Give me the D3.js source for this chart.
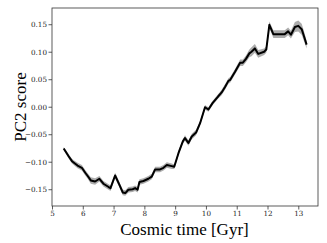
<!DOCTYPE html>
<html><head><meta charset="utf-8">
<script src="https://cdn.jsdelivr.net/npm/d3@7/dist/d3.min.js"></script>
<style>body{margin:0;background:#fff}svg{display:block}</style>
</head><body>
<script>
const time = [5.38,5.54,5.65,5.83,5.97,6.08,6.16,6.26,6.40,6.54,6.67,6.84,6.90,7.05,7.19,7.30,7.38,7.48,7.62,7.70,7.78,7.84,7.97,8.13,8.24,8.35,8.51,8.62,8.73,8.89,8.97,9.11,9.25,9.32,9.43,9.54,9.68,9.81,9.97,10.08,10.22,10.40,10.51,10.62,10.73,10.79,10.95,11.11,11.20,11.30,11.41,11.48,11.59,11.70,11.89,11.96,12.06,12.19,12.35,12.56,12.67,12.76,12.89,13.00,13.11,13.18,13.27];
const score = [-0.076,-0.090,-0.099,-0.107,-0.111,-0.120,-0.126,-0.134,-0.136,-0.131,-0.140,-0.146,-0.148,-0.125,-0.142,-0.156,-0.157,-0.151,-0.150,-0.148,-0.151,-0.137,-0.135,-0.131,-0.127,-0.114,-0.114,-0.111,-0.106,-0.108,-0.109,-0.084,-0.063,-0.057,-0.066,-0.054,-0.047,-0.030,-0.001,-0.005,0.007,0.019,0.026,0.036,0.047,0.049,0.064,0.080,0.080,0.087,0.097,0.100,0.106,0.096,0.100,0.104,0.149,0.132,0.132,0.132,0.137,0.131,0.145,0.147,0.141,0.129,0.113];
const scoreErr = [0.003,0.004,0.004,0.005,0.005,0.005,0.005,0.006,0.006,0.005,0.005,0.005,0.005,0.005,0.005,0.005,0.005,0.005,0.005,0.005,0.005,0.005,0.005,0.005,0.005,0.005,0.005,0.005,0.005,0.005,0.004,0.004,0.004,0.005,0.005,0.005,0.005,0.004,0.004,0.004,0.004,0.004,0.005,0.005,0.005,0.005,0.005,0.006,0.006,0.006,0.007,0.008,0.008,0.007,0.006,0.006,0.006,0.007,0.007,0.007,0.007,0.007,0.009,0.010,0.010,0.009,0.007];
const xTicks = [5,6,7,8,9,10,11,12,13];
const yTicks = [-0.15,-0.10,-0.05,0.00,0.05,0.10,0.15];

const W = 327, H = 243;
const m = {left: 52, right: 9, top: 8, bottom: 37};
const svg = d3.select("body").append("svg").attr("width", W).attr("height", H);
const x = d3.scaleLinear().domain([5, 13.64]).range([m.left, W - m.right]);
const y = d3.scaleLinear().domain([-0.1805, 0.1795]).range([H - m.bottom, m.top]);

const data = time.map((t, i) => ({t, v: score[i], e: scoreErr[i]}));

svg.append("path").datum(data)
  .attr("d", d3.area().x(d => x(d.t)).y0(d => y(d.v - d.e)).y1(d => y(d.v + d.e)))
  .attr("fill", "#808080").attr("opacity", 0.65);
svg.append("path").datum(data)
  .attr("d", d3.line().x(d => x(d.t)).y(d => y(d.v)))
  .attr("fill", "none").attr("stroke", "#000").attr("stroke-width", 2).attr("stroke-linejoin", "round");

const fmt = d => (d < 0 ? "\u2212" : "") + Math.abs(d).toFixed(2);
const gx = svg.append("g").attr("transform", `translate(0,${H - m.bottom})`)
  .call(d3.axisBottom(x).tickValues(xTicks).tickSize(3.5).tickPadding(1).tickFormat(d3.format("d")));
const gy = svg.append("g").attr("transform", `translate(${m.left},0)`)
  .call(d3.axisLeft(y).tickValues(yTicks).tickSize(3.5).tickPadding(1.5).tickFormat(fmt));
[gx, gy].forEach(g => {
  g.selectAll("text").attr("font-family", "'DejaVu Serif', serif").attr("font-size", 7.2).attr("fill", "#222");
  g.selectAll("line").attr("stroke", "#333").attr("stroke-width", 0.8);
  g.select(".domain").remove();
});

svg.append("rect").attr("x", m.left).attr("y", m.top)
  .attr("width", W - m.right - m.left).attr("height", H - m.bottom - m.top)
  .attr("fill", "none").attr("stroke", "#333").attr("stroke-width", 0.8);

svg.append("text").attr("x", 184.5).attr("y", 235)
  .attr("text-anchor", "middle").attr("font-family", "'Liberation Serif', serif").attr("font-size", 17)
  .attr("fill", "#000").text("Cosmic time [Gyr]");
svg.append("text").attr("transform", `translate(26,107) rotate(-90)`)
  .attr("text-anchor", "middle").attr("font-family", "'Liberation Serif', serif").attr("font-size", 17)
  .attr("fill", "#000").text("PC2 score");
</script>
</body></html>
